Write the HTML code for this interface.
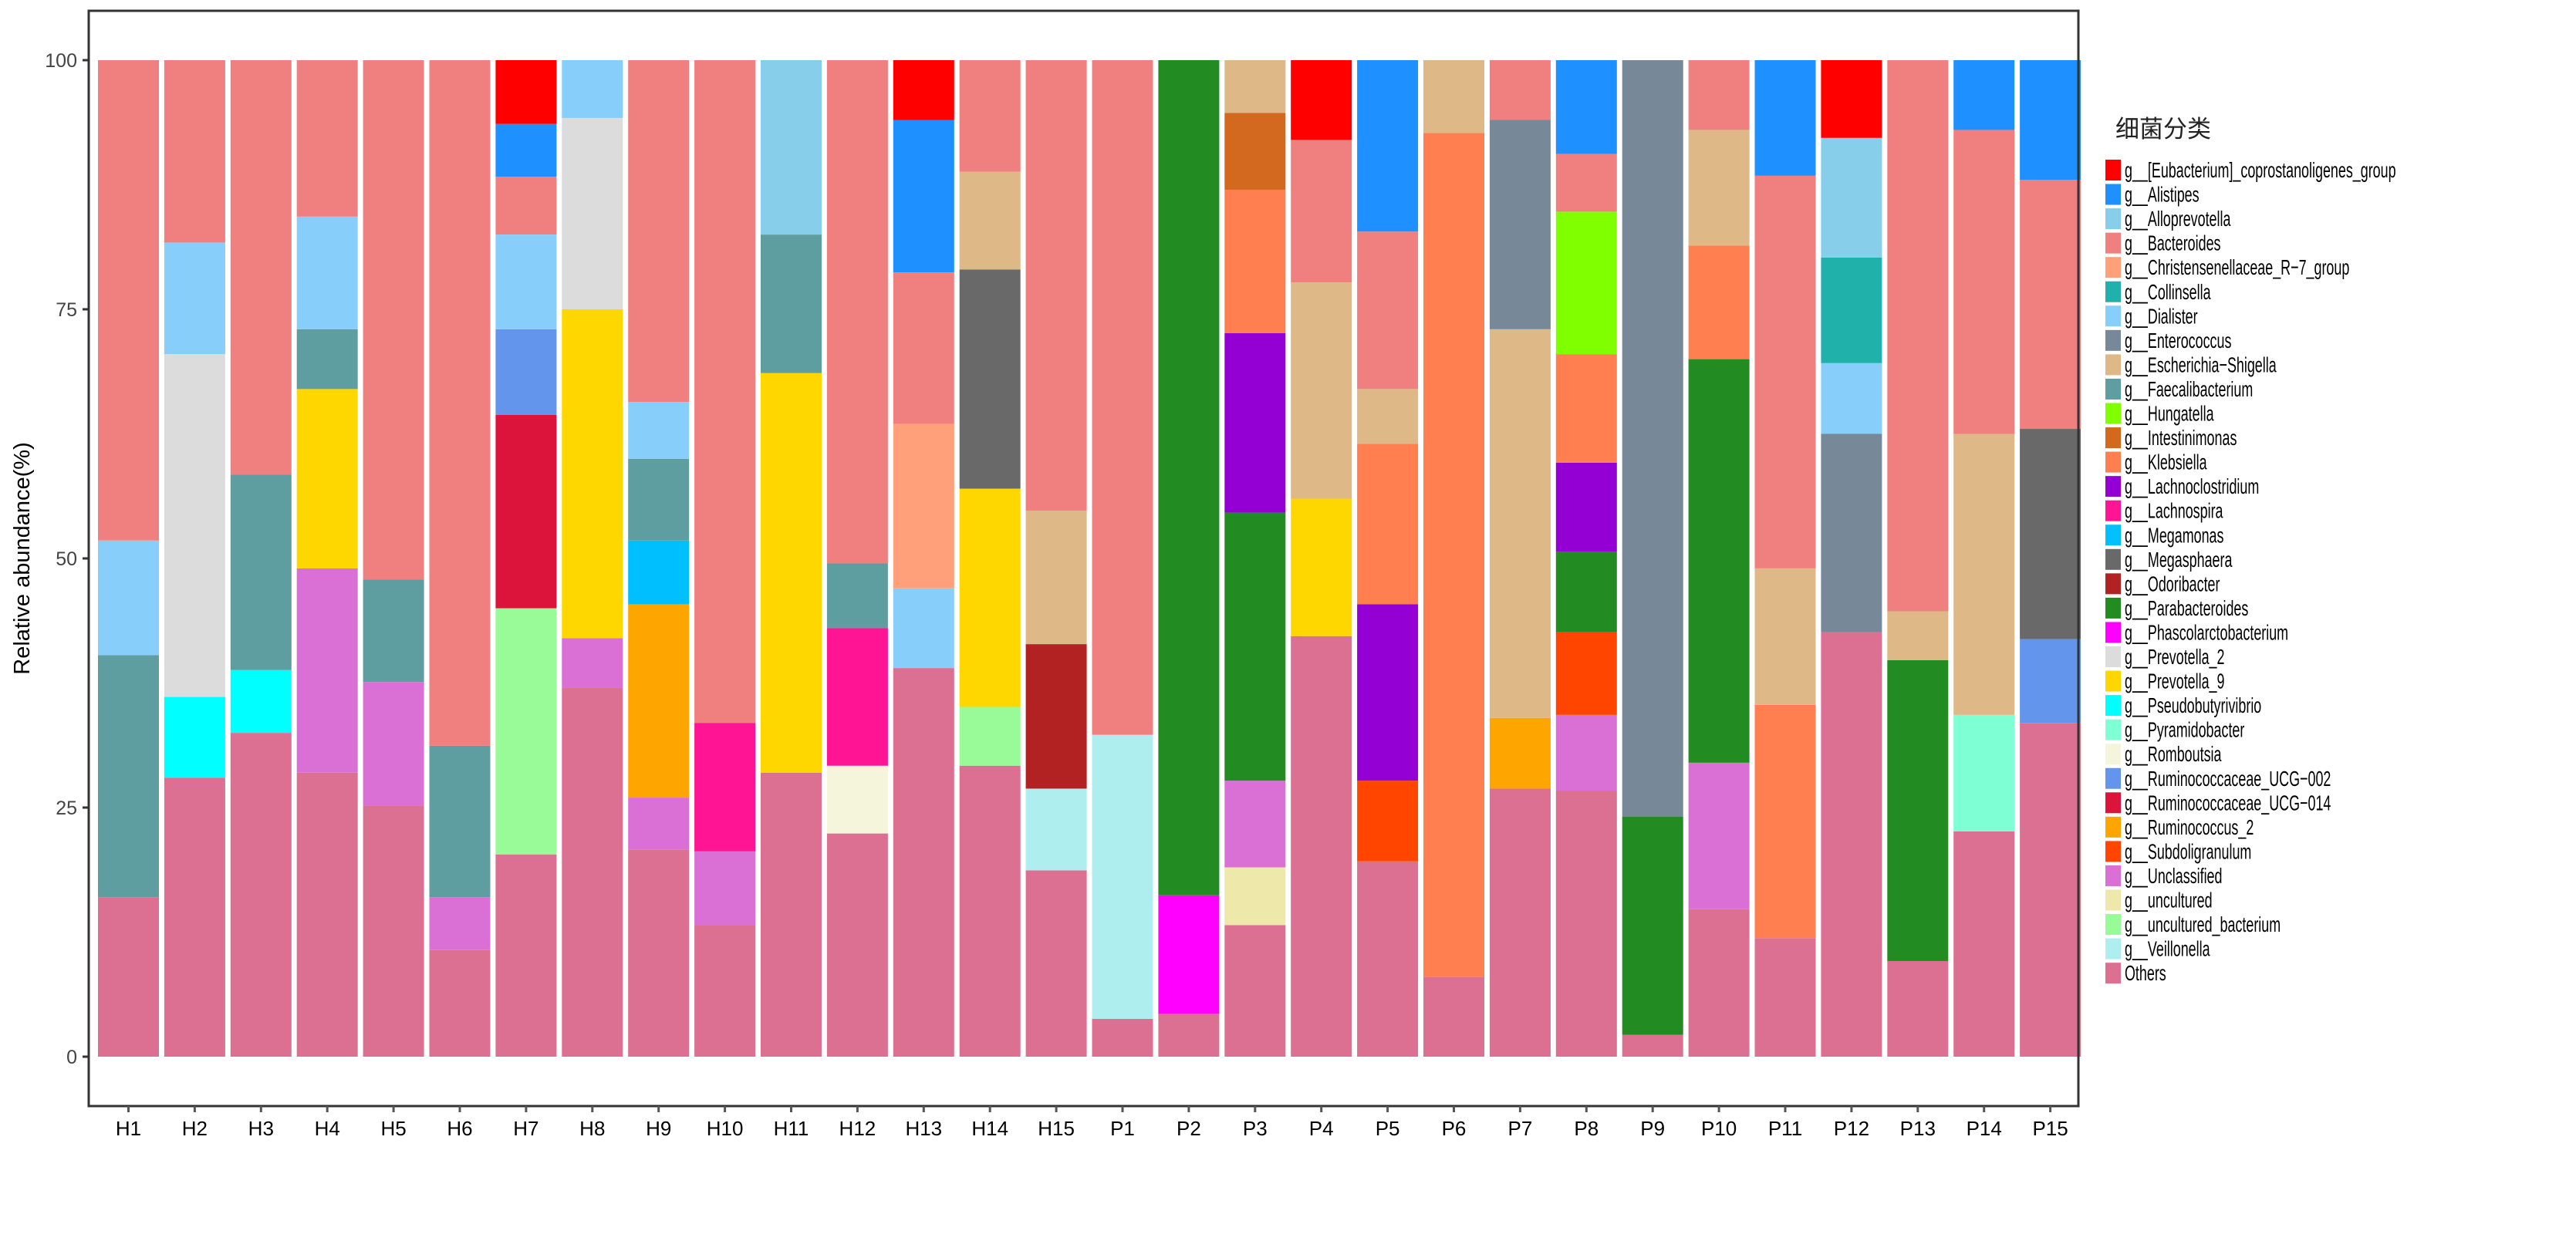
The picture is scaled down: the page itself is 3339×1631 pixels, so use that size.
<!DOCTYPE html>
<html><head><meta charset="utf-8"><style>
html,body{margin:0;padding:0;background:#fff;}
svg{display:block;font-family:"Liberation Sans","Noto Sans CJK SC",sans-serif;}
</style></head><body>
<svg id="s" width="3339" height="1631" xmlns="http://www.w3.org/2000/svg">
<rect width="3339" height="1631" fill="#fff"/>
<g id="bars"></g>
<rect x="115" y="14" width="2579" height="1420" fill="none" stroke="#333" stroke-width="3"/>
<g stroke="#333" stroke-width="3">
<line x1="107" y1="1370" x2="115" y2="1370"/><line x1="107" y1="1047" x2="115" y2="1047"/><line x1="107" y1="724" x2="115" y2="724"/><line x1="107" y1="401" x2="115" y2="401"/><line x1="107" y1="78" x2="115" y2="78"/>
</g>
<g font-size="25" fill="#444" text-anchor="end">
<text x="100" y="1379">0</text><text x="100" y="1056">25</text><text x="100" y="733">50</text><text x="100" y="410">75</text><text x="100" y="87">100</text>
</g>
<text transform="translate(38,724) rotate(-90)" font-size="29" text-anchor="middle" fill="#000">Relative abundance(%)</text>
<g id="xt" stroke="#555" stroke-width="3"></g>
<g font-size="26" fill="#000" text-anchor="middle">
<text x="166.5" y="1472">H1</text><text x="252.4" y="1472">H2</text><text x="338.3" y="1472">H3</text><text x="424.2" y="1472">H4</text><text x="510.1" y="1472">H5</text><text x="596" y="1472">H6</text><text x="681.9" y="1472">H7</text><text x="767.8" y="1472">H8</text><text x="853.7" y="1472">H9</text><text x="939.6" y="1472">H10</text><text x="1025.5" y="1472">H11</text><text x="1111.4" y="1472">H12</text><text x="1197.3" y="1472">H13</text><text x="1283.2" y="1472">H14</text><text x="1369.1" y="1472">H15</text><text x="1455" y="1472">P1</text><text x="1540.9" y="1472">P2</text><text x="1626.8" y="1472">P3</text><text x="1712.7" y="1472">P4</text><text x="1798.6" y="1472">P5</text><text x="1884.5" y="1472">P6</text><text x="1970.4" y="1472">P7</text><text x="2056.3" y="1472">P8</text><text x="2142.2" y="1472">P9</text><text x="2228.1" y="1472">P10</text><text x="2314" y="1472">P11</text><text x="2399.9" y="1472">P12</text><text x="2485.8" y="1472">P13</text><text x="2571.7" y="1472">P14</text><text x="2657.6" y="1472">P15</text>
</g>
<text x="2742" y="178" font-size="31" fill="#222">细菌分类</text>
<g font-size="28" fill="#000">
<text transform="translate(2754,230) scale(0.64,1)">g__[Eubacterium]_coprostanoligenes_group</text>
<text transform="translate(2754,261.55) scale(0.64,1)">g__Alistipes</text>
<text transform="translate(2754,293.1) scale(0.64,1)">g__Alloprevotella</text>
<text transform="translate(2754,324.65) scale(0.64,1)">g__Bacteroides</text>
<text transform="translate(2754,356.2) scale(0.64,1)">g__Christensenellaceae_R−7_group</text>
<text transform="translate(2754,387.75) scale(0.64,1)">g__Collinsella</text>
<text transform="translate(2754,419.3) scale(0.64,1)">g__Dialister</text>
<text transform="translate(2754,450.85) scale(0.64,1)">g__Enterococcus</text>
<text transform="translate(2754,482.4) scale(0.64,1)">g__Escherichia−Shigella</text>
<text transform="translate(2754,513.95) scale(0.64,1)">g__Faecalibacterium</text>
<text transform="translate(2754,545.5) scale(0.64,1)">g__Hungatella</text>
<text transform="translate(2754,577.05) scale(0.64,1)">g__Intestinimonas</text>
<text transform="translate(2754,608.6) scale(0.64,1)">g__Klebsiella</text>
<text transform="translate(2754,640.15) scale(0.64,1)">g__Lachnoclostridium</text>
<text transform="translate(2754,671.7) scale(0.64,1)">g__Lachnospira</text>
<text transform="translate(2754,703.25) scale(0.64,1)">g__Megamonas</text>
<text transform="translate(2754,734.8) scale(0.64,1)">g__Megasphaera</text>
<text transform="translate(2754,766.35) scale(0.64,1)">g__Odoribacter</text>
<text transform="translate(2754,797.9) scale(0.64,1)">g__Parabacteroides</text>
<text transform="translate(2754,829.45) scale(0.64,1)">g__Phascolarctobacterium</text>
<text transform="translate(2754,861) scale(0.64,1)">g__Prevotella_2</text>
<text transform="translate(2754,892.55) scale(0.64,1)">g__Prevotella_9</text>
<text transform="translate(2754,924.1) scale(0.64,1)">g__Pseudobutyrivibrio</text>
<text transform="translate(2754,955.65) scale(0.64,1)">g__Pyramidobacter</text>
<text transform="translate(2754,987.2) scale(0.64,1)">g__Romboutsia</text>
<text transform="translate(2754,1018.75) scale(0.64,1)">g__Ruminococcaceae_UCG−002</text>
<text transform="translate(2754,1050.3) scale(0.64,1)">g__Ruminococcaceae_UCG−014</text>
<text transform="translate(2754,1081.85) scale(0.64,1)">g__Ruminococcus_2</text>
<text transform="translate(2754,1113.4) scale(0.64,1)">g__Subdoligranulum</text>
<text transform="translate(2754,1144.95) scale(0.64,1)">g__Unclassified</text>
<text transform="translate(2754,1176.5) scale(0.64,1)">g__uncultured</text>
<text transform="translate(2754,1208.05) scale(0.64,1)">g__uncultured_bacterium</text>
<text transform="translate(2754,1239.6) scale(0.64,1)">g__Veillonella</text>
<text transform="translate(2754,1271.15) scale(0.64,1)">Others</text>
</g>
<g id="keys"></g>
<script>
var C={E:"#FF0000",Al:"#1E90FF",Ap:"#87CEEB",B:"#F08080",Ch:"#FFA07A",Co:"#20B2AA",D:"#87CEFA",En:"#778899",Es:"#DEB887",F:"#5F9EA0",Hu:"#7FFF00",In:"#D2691E",K:"#FF7F50",Lc:"#9400D3",Ls:"#FF1493",Mm:"#00BFFF",Ms:"#696969",Od:"#B22222",Pa:"#228B22",Ph:"#FF00FF",P2:"#DCDCDC",P9:"#FFD700",Ps:"#00FFFF",Py:"#7FFFD4",Ro:"#F5F5DC",R2:"#6495ED",R14:"#DC143C",Ru:"#FFA500",Su:"#FF4500",U:"#DA70D6",uc:"#EEE8AA",ub:"#98FB98",V:"#AFEEEE",O:"#DB7093"};
var order=["E","Al","Ap","B","Ch","Co","D","En","Es","F","Hu","In","K","Lc","Ls","Mm","Ms","Od","Pa","Ph","P2","P9","Ps","Py","Ro","R2","R14","Ru","Su","U","uc","ub","V","O"];
var D=[
[["O",16],["F",40.3],["D",51.8],["B",100]],
[["O",28],["Ps",36.1],["P2",70.5],["D",81.7],["B",100]],
[["O",32.5],["Ps",38.8],["F",58.4],["B",100]],
[["O",28.5],["U",49],["P9",67],["F",73],["D",84.3],["B",100]],
[["O",25.2],["U",37.6],["F",47.9],["B",100]],
[["O",10.7],["U",16],["F",31.2],["B",100]],
[["O",20.3],["ub",45],["R14",64.4],["R2",73],["D",82.5],["B",88.3],["Al",93.6],["E",100]],
[["O",37],["U",42],["P9",75],["P2",94.2],["D",100]],
[["O",20.8],["U",26],["Ru",45.4],["Mm",51.8],["F",60],["D",65.7],["B",100]],
[["O",13.2],["U",20.6],["Ls",33.5],["B",100]],
[["O",28.5],["P9",68.6],["F",82.5],["Ap",100]],
[["O",22.4],["Ro",29.2],["Ls",43],["F",49.5],["B",100]],
[["O",39],["D",47],["Ch",63.5],["B",78.7],["Al",94],["E",100]],
[["O",29.2],["ub",35.1],["P9",57],["Ms",79],["Es",88.8],["B",100]],
[["O",18.7],["V",26.9],["Od",41.4],["Es",54.8],["B",100]],
[["O",3.8],["V",32.3],["B",100]],
[["O",4.3],["Ph",16.2],["Pa",100]],
[["O",13.2],["uc",19],["U",27.7],["Pa",54.6],["Lc",72.6],["K",87],["In",94.7],["Es",100]],
[["O",42.2],["P9",56],["Es",77.7],["B",92],["E",100]],
[["O",19.6],["Su",27.7],["Lc",45.4],["K",61.5],["Es",67],["B",82.8],["Al",100]],
[["O",8],["K",92.7],["Es",100]],
[["O",26.9],["Ru",34],["Es",73],["En",94],["B",100]],
[["O",26.7],["U",34.3],["Su",42.6],["Pa",50.7],["Lc",59.6],["K",70.5],["Hu",84.8],["B",90.6],["Al",100]],
[["O",2.2],["Pa",24.1],["En",100]],
[["O",14.8],["U",29.5],["Pa",70],["K",81.4],["Es",93],["B",100]],
[["O",11.9],["K",35.3],["Es",49],["B",88.4],["Al",100]],
[["O",42.6],["En",62.5],["D",69.6],["Co",80.2],["Ap",92.2],["E",100]],
[["O",9.6],["Pa",39.8],["Es",44.7],["B",100]],
[["O",22.6],["Py",34.3],["Es",62.5],["B",93],["Al",100]],
[["O",33.5],["R2",41.9],["Ms",63],["B",88],["Al",100]]];
var ns="http://www.w3.org/2000/svg",g=document.getElementById("bars"),xt=document.getElementById("xt"),k=document.getElementById("keys");
function r(p,x,y,w,h,f){var e=document.createElementNS(ns,"rect");e.setAttribute("x",x);e.setAttribute("y",y);e.setAttribute("width",w);e.setAttribute("height",h);e.setAttribute("fill",f);p.appendChild(e);}
function Y(v){return 1370-v*12.92;}
D.forEach(function(b,i){var cx=166.5+i*85.9,prev=0;b.forEach(function(s){r(g,cx-39.5,Y(s[1]),79,Y(prev)-Y(s[1]),C[s[0]]);prev=s[1];});
var l=document.createElementNS(ns,"line");l.setAttribute("x1",cx);l.setAttribute("x2",cx);l.setAttribute("y1",1434);l.setAttribute("y2",1442);xt.appendChild(l);});
order.forEach(function(c,i){r(k,2729,207+i*31.55,20,27,C[c]);});
</script>
</svg>
</body></html>
